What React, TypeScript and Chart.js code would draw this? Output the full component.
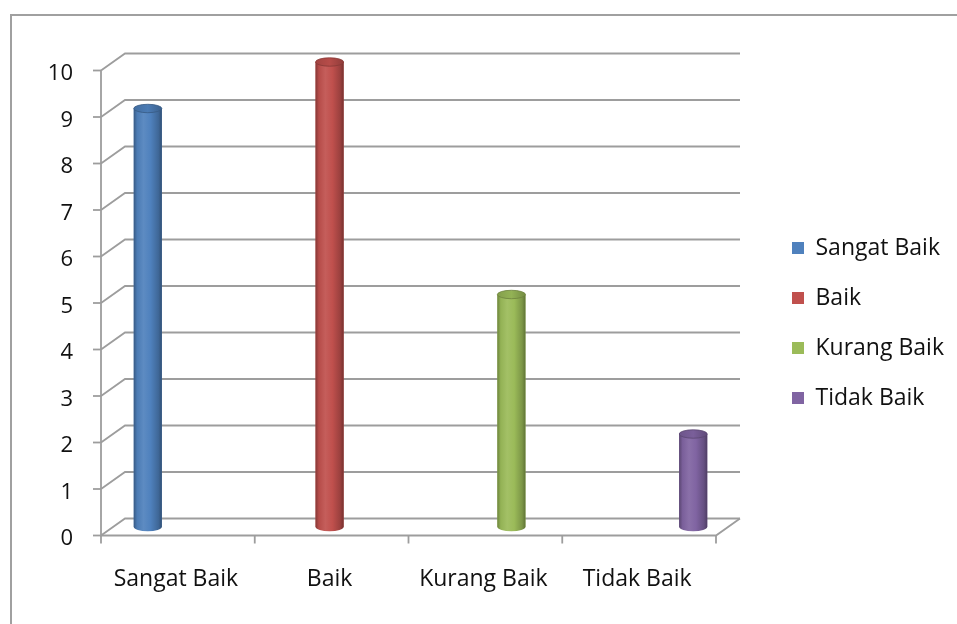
import React, { useEffect, useRef } from 'react';
import { Chart, registerables } from 'chart.js';

Chart.register(...registerables);

// ---- data ----
const categories = ['Sangat Baik', 'Baik', 'Kurang Baik', 'Tidak Baik'];
const seriesNames = ['Sangat Baik', 'Baik', 'Kurang Baik', 'Tidak Baik'];
const values = [9, 10, 5, 2];
const seriesColors = ['#4F81BD', '#C0504D', '#9BBB59', '#8064A2'];
const yMin = 0;
const yMax = 10;
const yStep = 1;

// ---- style ----
const W = 957;
const H = 624;
const FONT = "'Open Sans', 'Noto Sans', sans-serif";
const FONT_SIZE = 23;
const TICK_FONT_SIZE = 22;
const DX = 12; // half depth offset (x)
const DY = 8.5; // half depth offset (y)
const GRID = '#9d9d9d';
const LEGEND_PAD = 27;
const LEGEND_BOX = 12;
const LEGEND_BOX_X = 792;
const AREA_RIGHT = 728;

function shade(hex: string, f: number): string {
  const n = parseInt(hex.slice(1), 16);
  let r = (n >> 16) & 255, g = (n >> 8) & 255, b = n & 255;
  if (f < 0) {
    r = Math.round(r * (1 + f)); g = Math.round(g * (1 + f)); b = Math.round(b * (1 + f));
  } else {
    r = Math.round(r + (255 - r) * f); g = Math.round(g + (255 - g) * f); b = Math.round(b + (255 - b) * f);
  }
  return `rgb(${r},${g},${b})`;
}

const frame3d = {
  id: 'frame3d',
  beforeDatasetsDraw(chart: any) {
    const { ctx, chartArea } = chart;
    const ys = chart.scales.y;
    const left = chartArea.left;
    const right = chartArea.right;
    ctx.save();
    ctx.strokeStyle = GRID;
    ctx.lineWidth = 1.8;
    ctx.lineCap = 'butt';
    for (let v = yMin; v <= yMax; v += yStep) {
      const y = ys.getPixelForValue(v);
      ctx.beginPath();
      ctx.moveTo(left - DX, y + DY);
      ctx.lineTo(left + DX, y - DY);
      ctx.lineTo(right + DX, y - DY);
      ctx.stroke();
      ctx.beginPath();
      ctx.moveTo(left - DX - 8, y + DY);
      ctx.lineTo(left - DX, y + DY);
      ctx.stroke();
    }
    const y0 = ys.getPixelForValue(yMin);
    const yTop = ys.getPixelForValue(yMax);
    ctx.beginPath();
    ctx.moveTo(left - DX, yTop + DY);
    ctx.lineTo(left - DX, y0 + DY);
    ctx.lineTo(right - DX, y0 + DY);
    ctx.lineTo(right + DX, y0 - DY);
    ctx.stroke();
    const n = categories.length;
    const cw = (right - left) / n;
    for (let i = 0; i <= n; i++) {
      const x = left - DX + i * cw;
      ctx.beginPath();
      ctx.moveTo(x, y0 + DY);
      ctx.lineTo(x, y0 + DY + 8);
      ctx.stroke();
    }
    ctx.restore();
  },
  afterDatasetsDraw(chart: any) {
    const { ctx } = chart;
    chart.data.datasets.forEach((ds: any, di: number) => {
      const meta = chart.getDatasetMeta(di);
      const color = seriesColors[di];
      meta.data.forEach((el: any, i: number) => {
        if (ds.data[i] === null || ds.data[i] === undefined) return;
        const cx = el.x;
        const w = el.width;
        const top = el.y;
        const base = el.base;
        const l = cx - w / 2;
        const r = cx + w / 2;
        const ry = w * 0.15;
        ctx.save();
        const g = ctx.createLinearGradient(l, 0, r, 0);
        g.addColorStop(0, shade(color, -0.3));
        g.addColorStop(0.12, shade(color, -0.05));
        g.addColorStop(0.35, shade(color, 0.08));
        g.addColorStop(0.6, shade(color, 0.0));
        g.addColorStop(0.88, shade(color, -0.2));
        g.addColorStop(1, shade(color, -0.38));
        ctx.fillStyle = g;
        ctx.beginPath();
        ctx.moveTo(l, top);
        ctx.lineTo(l, base);
        ctx.ellipse(cx, base, w / 2, ry, 0, Math.PI, 0, true);
        ctx.lineTo(r, top);
        ctx.closePath();
        ctx.fill();
        const gt = ctx.createLinearGradient(l, 0, r, 0);
        gt.addColorStop(0, shade(color, -0.15));
        gt.addColorStop(0.5, shade(color, -0.05));
        gt.addColorStop(1, shade(color, -0.25));
        ctx.fillStyle = gt;
        ctx.beginPath();
        ctx.ellipse(cx, top, w / 2, ry, 0, 0, Math.PI * 2);
        ctx.fill();
        ctx.strokeStyle = shade(color, -0.3);
        ctx.lineWidth = 0.8;
        ctx.stroke();
        ctx.restore();
      });
    });
  },
};

export default function App() {
  const ref = useRef<HTMLCanvasElement | null>(null);
  useEffect(() => {
    if (!ref.current) return;
    const mc = document.createElement('canvas').getContext('2d')!;
    mc.font = `${FONT_SIZE}px ${FONT}`;
    const maxText = Math.max(...seriesNames.map((s) => mc.measureText(s).width));
    const legendW = 10 + LEGEND_PAD + LEGEND_BOX + FONT_SIZE / 2 + maxText;
    const legendLeft = LEGEND_BOX_X - LEGEND_PAD;
    const padRight = Math.max(0, W - legendLeft - legendW);
    const spacer = Math.max(0, W - padRight - legendW - AREA_RIGHT);

    const datasets = seriesNames.map((name, i) => ({
      label: name,
      data: categories.map((_, j) => (j === i ? values[i] : null)),
      backgroundColor: seriesColors[i],
      borderWidth: 0,
      yAxisID: 'y',
      xAxisID: 'x',
      categoryPercentage: 0.73,
      barPercentage: 1.0,
    }));

    const chart = new Chart(ref.current, {
      type: 'bar',
      data: { labels: categories, datasets },
      options: {
        animation: false,
        responsive: false,
        maintainAspectRatio: false,
        layout: { padding: { left: 0, top: 22, right: padRight, bottom: 0 } },
        plugins: {
          tooltip: { enabled: false },
          title: {
            display: true,
            text: ' ',
            font: { size: 10, lineHeight: 1.2 },
            padding: { top: 14, bottom: 14 },
          },
          legend: {
            display: true,
            position: 'right',
            labels: {
              boxWidth: LEGEND_BOX,
              boxHeight: LEGEND_BOX,
              padding: LEGEND_PAD,
              color: '#111',
              font: { family: FONT, size: FONT_SIZE },
            },
          },
        },
        scales: {
          x: {
            type: 'category',
            offset: true,
            grid: { display: false, drawTicks: false },
            border: { display: false },
            ticks: {
              color: '#111',
              font: { family: FONT, size: FONT_SIZE },
              padding: 39,
              labelOffset: -DX - 2,
              maxRotation: 0,
              autoSkip: false,
            },
            afterFit: (s: any) => { s.height = H - 527; },
          },
          y: {
            type: 'linear',
            position: 'left',
            min: yMin,
            max: yMax,
            grid: { display: false, drawTicks: false },
            border: { display: false },
            ticks: {
              stepSize: yStep,
              color: '#111',
              font: { family: FONT, size: TICK_FONT_SIZE },
              padding: 40,
              labelOffset: 12,
            },
            afterFit: (s: any) => { s.width = 113; },
          },
          spacer: {
            type: 'linear',
            position: 'right',
            display: false,
            afterFit: (s: any) => { s.width = spacer; },
          },
        },
      } as any,
      plugins: [frame3d],
    });
    return () => chart.destroy();
  }, []);

  return (
    <div style={{ position: 'absolute', left: 0, top: 0, width: W, height: H, background: '#fff', overflow: 'hidden' }}>
      <div
        style={{
          position: 'absolute',
          left: 10,
          top: 14,
          width: W,
          height: H,
          borderTop: '2px solid #a0a0a0',
          borderLeft: '2px solid #a0a0a0',
        }}
      />
      <canvas ref={ref} width={W} height={H} style={{ position: 'absolute', left: 0, top: 0, display: 'block' }} />
    </div>
  );
}
